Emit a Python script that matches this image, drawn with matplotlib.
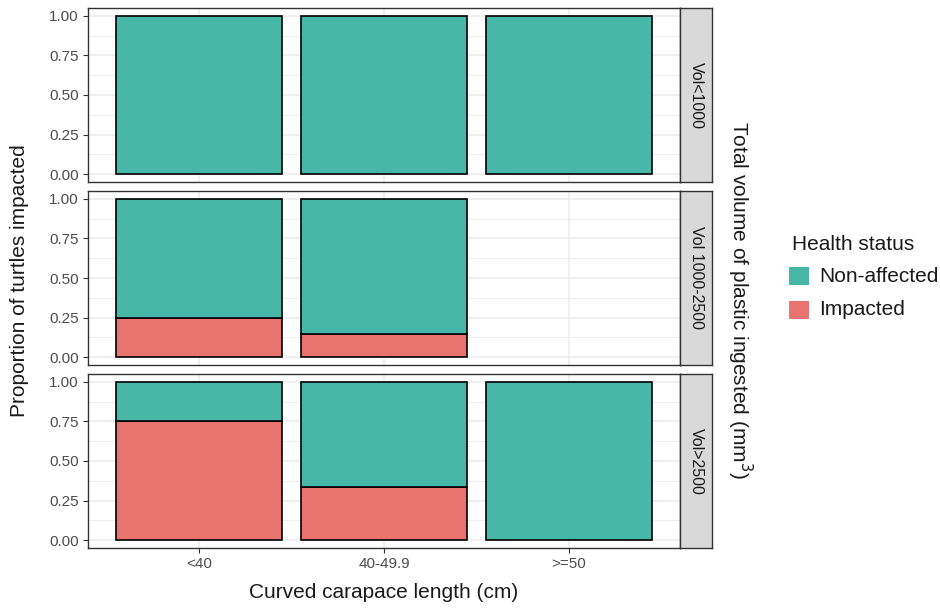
import numpy as np
import matplotlib.pyplot as plt

plt.rcParams['font.family'] = ['Liberation Sans', 'DejaVu Sans']

# data
size_classes = ['<40', '40-49.9', '>=50']
volume_classes = ['Vol<1000', 'Vol 1000-2500', 'Vol>2500']
impacted = [[0.0, 0.0, 0.0],
            [0.25, 1 / 7, np.nan],
            [0.75, 1 / 3, 0.0]]
present = [[True, True, True],
           [True, True, False],
           [True, True, True]]
yticks = [0.0, 0.25, 0.5, 0.75, 1.0]
ytick_labels = ['0.00', '0.25', '0.50', '0.75', '1.00']

col_non = '#47B8A8'
col_imp = '#E8736F'
edge = '#000000'
grey20 = '#333333'

W, H = 940, 608
fig = plt.figure(figsize=(W / 100, H / 100), dpi=100)

left, right = 88, 680
strip_w = 32
panel_tops = [8, 191, 374]
panel_h = 174

x = np.arange(len(size_classes))
for r in range(3):
    top = panel_tops[r]
    ax = fig.add_axes([left / W, 1 - (top + panel_h) / H, (right - left) / W, panel_h / H])
    ax.set_xlim(-0.6, 2.6)
    ax.set_ylim(-0.05, 1.05)
    ax.set_facecolor('white')
    for v in np.arange(0, 1.01, 0.125):
        ax.axhline(v, color='#EBEBEB', lw=1.1 if v * 4 % 1 == 0 else 0.6, zorder=0)
    for xi in x:
        ax.axvline(xi, color='#EBEBEB', lw=1.1, zorder=0)
    for c in range(3):
        if not present[r][c]:
            continue
        imp = impacted[r][c]
        non = 1 - imp
        if imp > 0:
            ax.bar(x[c], imp, width=0.9, color=col_imp, edgecolor=edge, lw=1.2, zorder=2)
        ax.bar(x[c], non, bottom=imp, width=0.9, color=col_non, edgecolor=edge, lw=1.2, zorder=2)
    ax.set_yticks(yticks)
    ax.set_yticklabels(ytick_labels)
    ax.set_xticks(x)
    ax.tick_params(axis='both', colors=grey20, labelcolor='#4D4D4D', labelsize=11,
                   length=3.5, width=0.8, pad=3)
    if r == 2:
        ax.set_xticklabels(size_classes)
    else:
        ax.set_xticklabels([])
        ax.tick_params(axis='x', length=0)
    for s in ax.spines.values():
        s.set_color(grey20)
        s.set_linewidth(1.0)

    # strip
    sax = fig.add_axes([right / W, 1 - (top + panel_h) / H, strip_w / W, panel_h / H])
    sax.set_facecolor('#D9D9D9')
    sax.set_xticks([])
    sax.set_yticks([])
    for s in sax.spines.values():
        s.set_color(grey20)
        s.set_linewidth(1.0)
    sax.text(0.5, 0.5, volume_classes[r], rotation=-90, ha='center', va='center',
             fontsize=11.5, color='#1A1A1A', transform=sax.transAxes)

fig.text(20 / W, 1 - 281 / H, 'Proportion of turtles impacted', rotation=90,
         ha='center', va='center', fontsize=15, color='#1A1A1A')
fig.text(384 / W, 1 - 592 / H, 'Curved carapace length (cm)',
         ha='center', va='center', fontsize=15, color='#1A1A1A')
fig.text(740 / W, 1 - 300 / H, 'Total volume of plastic ingested (mm$^3$)', rotation=-90,
         ha='center', va='center', fontsize=15, color='#1A1A1A')

# legend
fig.text(792 / W, 1 - 244 / H, 'Health status', ha='left', va='center',
         fontsize=15, color='#1A1A1A')
for i, (lab, col) in enumerate([('Non-affected', col_non), ('Impacted', col_imp)]):
    yc = 276 + i * 34
    fig.patches.append(plt.Rectangle((789 / W, 1 - (yc + 9) / H), 20 / W, 18 / H,
                                     transform=fig.transFigure, facecolor=col, edgecolor='none'))
    fig.text(819 / W, 1 - yc / H, lab, ha='left', va='center', fontsize=15, color='#1A1A1A')

fig.savefig('out.png', dpi=100)
